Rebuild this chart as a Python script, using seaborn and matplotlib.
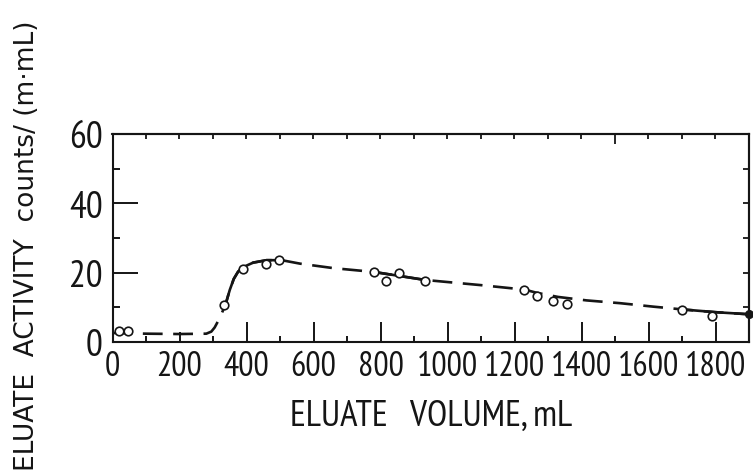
import numpy as np
import pandas as pd
import matplotlib
matplotlib.use("Agg")
import matplotlib.pyplot as plt
import seaborn as sns

# Measured eluate activity
volume_ml = [20, 45, 333, 389, 457, 497, 781, 815, 855, 933,
             1228, 1266, 1316, 1358, 1701, 1790]
activity = [3.2, 3.3, 10.8, 21.0, 22.5, 23.6, 20.3, 17.6, 19.8, 17.6,
            14.9, 13.2, 11.8, 10.9, 9.3, 7.6]

# Hand-drawn elution curve through the data
curve_x = [0, 100, 200, 280, 295, 305, 315, 325, 338, 350, 362, 375, 390,
           420, 460, 505, 560, 660, 781, 860, 933, 1100, 1231, 1266, 1330,
           1415, 1515, 1614, 1701, 1800, 1900]
curve_y = [2.6, 2.4, 2.3, 2.4, 3.0, 4.2, 6.0, 8.0, 11.0, 15.0, 18.2, 20.3,
           21.6, 22.9, 23.6, 23.6, 22.6, 21.3, 20.2, 19.0, 17.9, 16.4, 15.1,
           14.2, 13.0, 12.0, 11.2, 10.2, 9.4, 8.6, 8.0]
solid_spans = [(338, 505), (781, 933), (1701, 1900)]

x_ticks = [0, 200, 400, 600, 800, 1000, 1200, 1400, 1600, 1800]
x_ticklabels = ["0", "200", "400", "600", "800", "1000", "1200", "1400", "1600", "1800"]
y_ticks = [0, 20, 40, 60]
y_ticklabels = ["0", "20", "40", "60"]

sns.set_theme(style="ticks")
FONT = ["PT Sans Narrow", "DejaVu Sans"]
plt.rcParams["font.family"] = FONT
INK = "#151515"

fig = plt.figure(figsize=(7.53, 4.77), dpi=100)
ax = fig.add_axes([112.5 / 753, 1 - 343 / 477, (749 - 112.5) / 753, (343 - 135) / 477])

curve = pd.DataFrame({"volume": curve_x, "activity": curve_y})
pts = pd.DataFrame({"volume": volume_ml, "activity": activity})

# dashed curve over the full range
sns.lineplot(data=curve, x="volume", y="activity", ax=ax, color=INK,
             linewidth=1.9, sort=False, estimator=None)
ax.lines[-1].set_dashes((7.5, 4.0))
ax.lines[-1].set_clip_on(False)

# solid pieces where the curve is well supported by data
for lo, hi in solid_spans:
    seg = curve[(curve.volume >= lo) & (curve.volume <= hi)]
    sns.lineplot(data=seg, x="volume", y="activity", ax=ax, color=INK,
                 linewidth=1.9, sort=False, estimator=None)
    ax.lines[-1].set_clip_on(False)

# end point of the curve
ax.plot(curve_x[-1], curve_y[-1], "o", color=INK, markersize=5.5, clip_on=False, zorder=5)

sns.scatterplot(data=pts, x="volume", y="activity", ax=ax, marker="o",
                s=38, facecolor="white", edgecolor=INK, linewidth=1.2,
                zorder=4, clip_on=False)

ax.set_xlim(0, 1900)
ax.set_ylim(0, 60)

for side in ax.spines.values():
    side.set_linewidth(1.5)
    side.set_color(INK)

ax.set_xticks(x_ticks)
ax.set_xticklabels(x_ticklabels)
ax.set_xticks(np.arange(100, 1900, 200), minor=True)
ax.set_yticks(y_ticks)
ax.set_yticklabels(y_ticklabels)
ax.set_yticks([10, 30, 50], minor=True)

ax.tick_params(axis="x", which="major", direction="in", length=14.5, width=1.4,
               color=INK, labelsize=24.5, pad=6, labelcolor=INK)
ax.tick_params(axis="x", which="minor", direction="in", length=4.5, width=1.4, color=INK)
ax.tick_params(axis="y", which="major", direction="in", length=18, width=1.4,
               color=INK, labelsize=27, pad=7, labelcolor=INK)
ax.tick_params(axis="y", which="minor", direction="in", length=5, width=1.4, color=INK)
ax.xaxis.get_major_ticks()[1].tick1line.set_markersize(7)

top = ax.secondary_xaxis("top")
top.set_xticks(np.arange(100, 1900, 100))
top.tick_params(direction="in", length=3.8, width=1.3, color=INK, labeltop=False)
top.spines["top"].set_linewidth(1.5)
for t, v in zip(top.xaxis.get_major_ticks(), np.arange(100, 1900, 100)):
    if v == 1500:
        t.tick2line.set_markersize(7.5)

right = ax.secondary_yaxis("right")
right.set_yticks([10, 20, 30, 40, 50])
right.tick_params(direction="in", length=4.5, width=1.3, color=INK, labelright=False)
right.spines["right"].set_linewidth(1.5)

ax.set_xlabel("ELUATE   VOLUME, mL", fontsize=26.5, color=INK)
ax.xaxis.set_label_coords(0.5, -0.272)
ax.set_ylabel("")
fig.text(27 / 753, 1 - 246 / 477, "ELUATE  ACTIVITY  counts/ (m·mL)", rotation=90,
         ha="center", va="center", fontsize=19, color=INK, family="DejaVu Sans")

fig.savefig("out.png", dpi=100, facecolor="white")
